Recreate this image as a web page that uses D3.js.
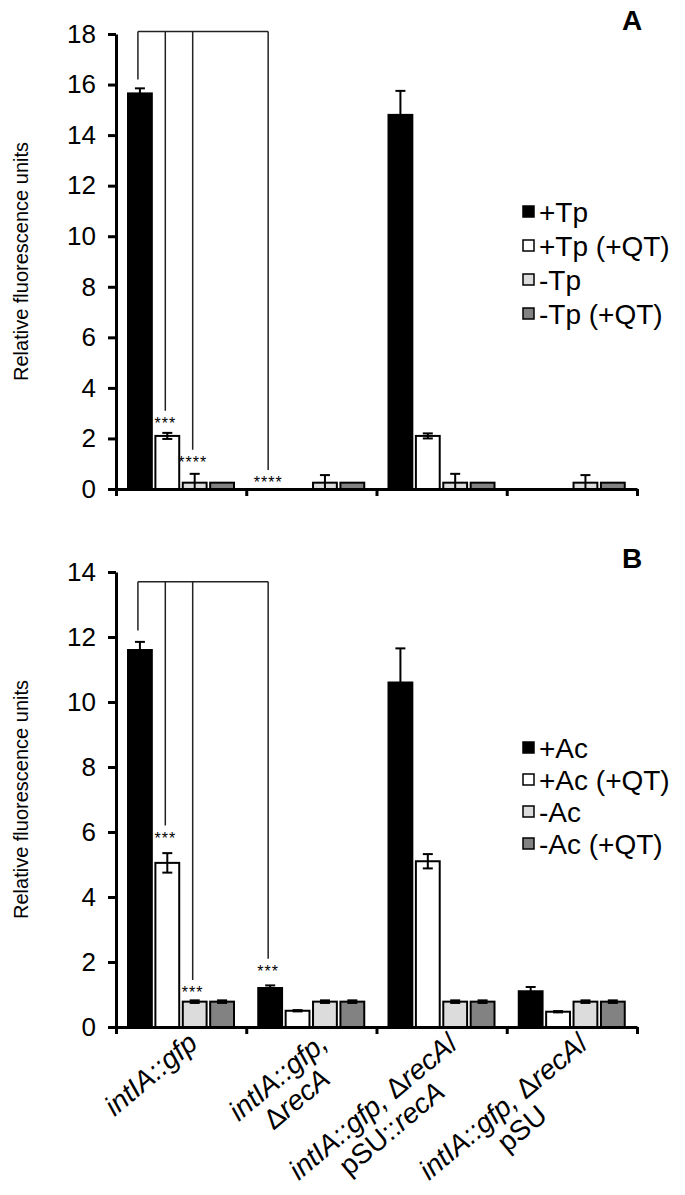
<!DOCTYPE html>
<html>
<head>
<meta charset="utf-8">
<script src="https://cdn.jsdelivr.net/npm/d3@7"></script>
<style>
  body { margin: 0; background: #fff; }
  text { font-family: "Liberation Sans", Arial, Helvetica, sans-serif; fill: #000; }
</style>
</head>
<body>
<div id="chart"></div>
<script>
// strains on the x axis (each label is a list of lines, each line a list of [text, italic])
var strainLabels = [
    [[["intIA::gfp", true]]],
    [[["intIA::gfp,", true]], [["\u0394", false], ["recA", true]]],
    [[["intIA::gfp, ", true], ["\u0394", false], ["recA", true], ["/", false]],
     [["pSU::", false], ["recA", true]]],
    [[["intIA::gfp, ", true], ["\u0394", false], ["recA", true], ["/", false]],
     [["pSU", false]]]
];

// panel A: trimethoprim
var seriesA = ["+Tp", "+Tp (+QT)", "-Tp", "-Tp (+QT)"];
var valuesA = [
    [15.65, 2.1, 0.25, 0.25],
    [0, 0, 0.25, 0.25],
    [14.8, 2.1, 0.25, 0.25],
    [0, 0, 0.25, 0.25]
];
var errorsA = [
    [0.2, 0.12, 0.35, 0],
    [0, 0, 0.3, 0],
    [0.95, 0.1, 0.35, 0],
    [0, 0, 0.3, 0]
];
var ticksA = [0, 2, 4, 6, 8, 10, 12, 14, 16, 18];
// bracket: top value, then [group, series, drop end value, stars]
var bracketTopA = 18.1;
var dropsA = [[0, 0, 16.2, ""], [0, 1, 3.1, "***"], [0, 2, 1.55, "****"], [1, 0, 0.75, "****"]];

// panel B: acetate
var seriesB = ["+Ac", "+Ac (+QT)", "-Ac", "-Ac (+QT)"];
var valuesB = [
    [11.6, 5.05, 0.78, 0.78],
    [1.2, 0.5, 0.78, 0.78],
    [10.6, 5.1, 0.78, 0.78],
    [1.1, 0.47, 0.78, 0.78]
];
var errorsB = [
    [0.25, 0.3, 0.04, 0.04],
    [0.08, 0.02, 0.04, 0.04],
    [1.05, 0.22, 0.04, 0.04],
    [0.13, 0.02, 0.04, 0.04]
];
var ticksB = [0, 2, 4, 6, 8, 10, 12, 14];
var bracketTopB = 13.7;
var dropsB = [[0, 0, 12.2, ""], [0, 1, 6.2, "***"], [0, 2, 1.45, "***"], [1, 0, 2.1, "***"]];

var fills = ["#000000", "#ffffff", "#dcdcdc", "#828282"];

var W = 685, H = 1195;
var left = 116, right = 637;

var svg = d3.select("#chart").append("svg")
    .attr("width", W)
    .attr("height", H);

var x0 = d3.scaleBand()
    .domain(d3.range(strainLabels.length))
    .range([left, right])
    .paddingInner(0)
    .paddingOuter(0);

var x1 = d3.scaleBand()
    .domain(d3.range(4))
    .range([12, 118])
    .paddingInner(0.13);

function drawPanel(opts) {
    var g = svg.append("g");
    var y = d3.scaleLinear()
        .domain([0, d3.max(opts.ticks)])
        .range([opts.bottom, opts.top]);

    // bars (keep series index with each value)
    var grp = g.selectAll(".grp")
        .data(opts.values.map(function(row, i) {
            return row.map(function(v, j) { return { v: v, j: j, e: opts.errors[i][j] }; });
        }))
        .enter().append("g")
        .attr("transform", function(d, i) { return "translate(" + x0(i) + ",0)"; });

    grp.selectAll("rect")
        .data(function(d) { return d.filter(function(b) { return b.v > 0; }); })
        .enter().append("rect")
        .attr("x", function(d) { return x1(d.j); })
        .attr("y", function(d) { return y(d.v); })
        .attr("width", x1.bandwidth())
        .attr("height", function(d) { return y(0) - y(d.v); })
        .attr("fill", function(d) { return fills[d.j]; })
        .attr("stroke", "#000")
        .attr("stroke-width", 2);

    // error bars
    grp.each(function(row) {
        var eg = d3.select(this);
        row.forEach(function(b) {
            if (!(b.v > 0) || b.e <= 0) return;
            var cx = x1(b.j) + x1.bandwidth() / 2;
            var lo = Math.max(0, b.v - b.e), hi = b.v + b.e;
            eg.append("line")
                .attr("x1", cx).attr("x2", cx)
                .attr("y1", y(hi)).attr("y2", y(lo))
                .attr("stroke", "#000").attr("stroke-width", 2);
            [hi, lo].forEach(function(t) {
                eg.append("line")
                    .attr("x1", cx - 5).attr("x2", cx + 5)
                    .attr("y1", y(t)).attr("y2", y(t))
                    .attr("stroke", "#000").attr("stroke-width", 2);
            });
        });
    });

    // y axis
    var yAxis = g.append("g")
        .attr("transform", "translate(" + left + ",0)")
        .call(d3.axisLeft(y).tickValues(opts.ticks).tickSize(8).tickSizeOuter(0).tickPadding(12));
    yAxis.select(".domain").attr("stroke-width", 3);
    yAxis.selectAll(".tick line").attr("stroke-width", 3);
    yAxis.selectAll(".tick text")
        .style("font-size", "26px")
        .style("font-family", "Liberation Sans, Arial, sans-serif");

    // x axis
    var xe = d3.scaleLinear().domain([0, strainLabels.length]).range([left, right]);
    var xAxis = g.append("g")
        .attr("transform", "translate(0," + opts.bottom + ")")
        .call(d3.axisBottom(xe).tickValues(d3.range(strainLabels.length + 1)).tickSize(7).tickSizeOuter(0).tickFormat(""));
    xAxis.select(".domain").attr("stroke-width", 3);
    xAxis.selectAll(".tick line").attr("stroke-width", 3);

    // axis title
    g.append("text")
        .attr("transform", "translate(28," + ((opts.top + opts.bottom) / 2) + ")rotate(-90)")
        .attr("text-anchor", "middle")
        .style("font-size", "20px")
        .text("Relative fluorescence units");

    // significance bracket
    var bx = function(d) { return x0(d[0]) + x1(d[1]) + x1.bandwidth() / 2 - 2; };
    var xs = opts.drops.map(bx);
    g.append("line")
        .attr("x1", d3.min(xs)).attr("x2", d3.max(xs))
        .attr("y1", y(opts.bracketTop)).attr("y2", y(opts.bracketTop))
        .attr("stroke", "#222").attr("stroke-width", 1.5);
    opts.drops.forEach(function(d) {
        g.append("line")
            .attr("x1", bx(d)).attr("x2", bx(d))
            .attr("y1", y(opts.bracketTop)).attr("y2", y(d[2]))
            .attr("stroke", "#222").attr("stroke-width", 1.5);
        if (d[3]) {
            g.append("text")
                .attr("x", bx(d))
                .attr("y", y(d[2]) + 18)
                .attr("text-anchor", "middle")
                .style("font-size", "16px")
                .style("letter-spacing", "1px")
                .text(d[3]);
        }
    });

    // panel letter
    g.append("text")
        .attr("x", 632)
        .attr("y", opts.letterY)
        .attr("text-anchor", "middle")
        .style("font-size", "28px")
        .style("font-weight", "bold")
        .text(opts.letter);

    // legend
    var lg = g.selectAll(".leg")
        .data(opts.series)
        .enter().append("g")
        .attr("transform", function(d, i) { return "translate(522," + (opts.legendY + i * opts.legendStep) + ")"; });
    lg.append("rect")
        .attr("x", 1).attr("y", -6)
        .attr("width", 11).attr("height", 11)
        .attr("fill", function(d, i) { return fills[i]; })
        .attr("stroke", "#000")
        .attr("stroke-width", 1.5);
    lg.append("text")
        .attr("x", 17)
        .attr("y", 10)
        .style("font-size", "28px")
        .text(function(d) { return d; });

    return y;
}

drawPanel({
    values: valuesA, errors: errorsA, series: seriesA, ticks: ticksA,
    top: 34, bottom: 489, bracketTop: bracketTopA, drops: dropsA,
    letter: "A", letterY: 30, legendY: 212, legendStep: 34
});

drawPanel({
    values: valuesB, errors: errorsB, series: seriesB, ticks: ticksB,
    top: 572, bottom: 1027, bracketTop: bracketTopB, drops: dropsB,
    letter: "B", letterY: 568, legendY: 748, legendStep: 32
});

// rotated strain labels under panel B
var angle = -40;
var lineH = 29;
strainLabels.forEach(function(lines, i) {
    var cx = x0(i) + x0.bandwidth() / 2 + 18;
    var lab = svg.append("g")
        .attr("transform", "translate(" + cx + ",1046)rotate(" + angle + ")");
    var texts = lines.map(function(parts, k) {
        var t = lab.append("text")
            .attr("y", k * lineH)
            .attr("text-anchor", "middle")
            .style("font-size", "28px");
        parts.forEach(function(p) {
            t.append("tspan")
                .style("font-style", p[1] ? "italic" : "normal")
                .text(p[0]);
        });
        return t;
    });
    var widths = texts.map(function(t) { return t.node().getComputedTextLength(); });
    var maxW = d3.max(widths);
    texts.forEach(function(t) { t.attr("x", -maxW / 2); });
});
</script>
</body>
</html>
